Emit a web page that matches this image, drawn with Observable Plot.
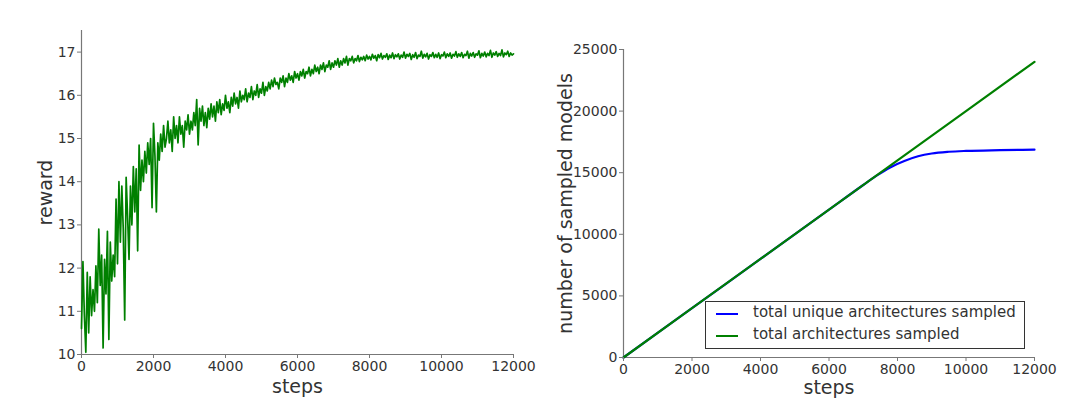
<!DOCTYPE html>
<html>
<head>
<meta charset="utf-8">
<script src="https://cdn.jsdelivr.net/npm/d3@7"></script>
<script src="https://cdn.jsdelivr.net/npm/@observablehq/plot@0.6"></script>
<style>
  html, body { margin: 0; padding: 0; background: #fff; }
  #wrap { position: relative; width: 1080px; height: 418px; display: flex; font-family: "DejaVu Sans", sans-serif; }
  #wrap > div.panel { width: 540px; height: 418px; }
  #legend { position: absolute; left: 705px; top: 301px; width: 320px; height: 48px; box-sizing: border-box;
            border: 1px solid #333; background: #fff; }
  .item { position: absolute; left: 0; height: 22px; width: 100%; }
  .item .sw { position: absolute; left: 10px; top: 10px; width: 22px; height: 0; border-top: 2.5px solid; }
  .item .lb { position: absolute; left: 47px; top: 0px; font-size: 15px; color: #333; white-space: nowrap; }
</style>
</head>
<body>
<div id="wrap">
  <div class="panel" id="left"></div>
  <div class="panel" id="right"></div>
  <div id="legend"></div>
</div>
<script>
// ---------- data ----------
const STEP_INTERVAL = 40;
const rewards = [
  10.6, 12.15, 10.9, 10.05, 11.9, 10.5, 11.8, 10.9, 11.5, 11.0,
  12.05, 11.2, 12.9, 11.6, 12.3, 10.15, 12.2, 11.4, 12.85, 10.35,
  12.6, 11.7, 12.3, 11.8, 13.6, 12.1, 14.0, 12.6, 13.9, 12.9,
  10.8, 14.1, 13.2, 12.2, 13.9, 13.0, 14.35, 13.3, 14.3, 12.4,
  14.85, 13.8, 14.5, 14.0, 14.7, 14.2, 14.9, 14.4, 15.0, 13.4,
  15.35, 14.6, 13.3, 14.9, 14.5, 15.1, 14.7, 15.3, 14.8, 15.0,
  15.4, 14.9, 15.2, 14.7, 15.5, 15.0, 15.3, 14.9, 15.5, 15.1,
  15.3, 14.8, 15.4, 15.2, 15.55, 15.1, 15.4, 15.2, 15.6, 15.3,
  15.9, 14.85, 15.7, 15.4, 15.75, 15.3, 15.6, 15.25, 15.7, 15.45,
  15.8, 15.5, 15.75, 15.4, 15.85, 15.6, 15.9, 15.55, 15.8, 15.65,
  16.0, 15.7, 15.85, 15.6, 15.95, 15.75, 16.05, 15.8, 15.95, 15.7,
  16.1, 15.85, 16.0, 15.9, 16.15, 15.85, 16.05, 15.95, 16.2, 15.9,
  16.1, 16.0, 16.25, 15.95, 16.15, 16.05, 16.3, 16.0, 16.2, 16.1,
  16.3, 16.15, 16.35, 16.2, 16.4, 16.25, 16.3, 16.15, 16.4, 16.3,
  16.45, 16.2, 16.4, 16.3, 16.5, 16.35, 16.45, 16.3, 16.55, 16.4,
  16.5, 16.35, 16.55, 16.45, 16.6, 16.4, 16.55, 16.5, 16.65, 16.45,
  16.6, 16.5, 16.7, 16.55, 16.65, 16.5, 16.7, 16.6, 16.75, 16.55,
  16.7, 16.65, 16.8, 16.6, 16.75, 16.65, 16.8, 16.7, 16.85, 16.65,
  16.8, 16.7, 16.85, 16.75, 16.9, 16.7, 16.85, 16.8, 16.9, 16.75,
  16.85, 16.8, 16.92, 16.78, 16.88, 16.82, 16.9, 16.8, 16.93, 16.84,
  16.9, 16.82, 16.95, 16.86, 16.92, 16.8, 16.94, 16.87, 16.97, 16.84,
  16.92, 16.88, 16.96, 16.83, 16.93, 16.87, 16.98, 16.85, 16.94, 16.89,
  16.96, 16.84, 16.93, 16.88, 17.0, 16.86, 16.95, 16.9, 16.97, 16.83,
  16.94, 16.88, 16.99, 16.85, 16.93, 16.9, 17.02, 16.86, 16.95, 16.89,
  16.97, 16.84, 16.94, 16.9, 16.99, 16.87, 16.95, 16.88, 16.98, 16.85,
  16.94, 16.91, 17.0, 16.87, 16.96, 16.9, 16.98, 16.86, 16.95, 16.91,
  17.01, 16.88, 16.96, 16.9, 16.99, 16.87, 16.95, 16.92, 17.02, 16.86,
  16.97, 16.91, 16.99, 16.88, 16.96, 16.93, 17.03, 16.87, 16.97, 16.91,
  17.0, 16.89, 16.97, 16.92, 17.04, 16.88, 16.98, 16.93, 17.01, 16.9,
  16.97, 16.92, 17.05, 16.89, 16.98, 16.94, 17.02, 16.9, 16.98, 16.93,
  16.96
];

const uniqueSteps  = [0, 2000, 4000, 6000, 7000, 7400, 7800, 8200, 8600, 9000, 9500, 10000, 11000, 12000];
const uniqueCounts = [0, 4000, 8000, 12000, 14000, 14780, 15450, 15950, 16330, 16560, 16700, 16770, 16830, 16870];
const totalSteps   = [0, 2000, 4000, 6000, 8000, 10000, 12000];
const totalCounts  = [0, 4000, 8000, 12000, 16000, 20000, 24000];

const seriesNames  = ["total unique architectures sampled", "total architectures sampled"];
const seriesColors = ["#0000ff", "#008000"];

const xTicks = [0, 2000, 4000, 6000, 8000, 10000, 12000];
const rewardTicks = [10, 11, 12, 13, 14, 15, 16, 17];
const countTicks = [0, 5000, 10000, 15000, 20000, 25000];

// ---------- tables ----------
const rewardData = rewards.map((r, i) => ({step: i * STEP_INTERVAL, reward: r}));
const uniqueData = uniqueSteps.map((s, i) => ({step: s, n: uniqueCounts[i]}));
const totalData  = totalSteps.map((s, i) => ({step: s, n: totalCounts[i]}));

const fmt = d => String(d);
const spine = "#777";
const textCol = "#333";
const baseStyle = {fontFamily: "DejaVu Sans, sans-serif", fontSize: "14px", color: textCol, background: "white", overflow: "visible"};

const left = Plot.plot({
  width: 540, height: 418,
  marginLeft: 81, marginRight: 27, marginTop: 30, marginBottom: 64,
  x: {domain: [0, 12000]},
  y: {domain: [10, 17.5]},
  style: baseStyle,
  marks: [
    Plot.ruleY([10], {stroke: spine, strokeWidth: 1.2}),
    Plot.ruleX([0], {stroke: spine, strokeWidth: 1.2}),
    Plot.line(rewardData, {x: "step", y: "reward", stroke: seriesColors[1], strokeWidth: 1.7}),
    Plot.axisX({ticks: xTicks, tickFormat: fmt, tickSize: 4, tickPadding: 3, label: null, fontSize: 14, stroke: spine, fill: textCol}),
    Plot.axisY({ticks: rewardTicks, tickFormat: fmt, tickSize: 4, tickPadding: 2, label: null, fontSize: 14, stroke: spine, fill: textCol}),
    Plot.text(["steps"], {frameAnchor: "bottom", text: d => d, dy: 32, fontSize: 19, fill: textCol, textAnchor: "middle", lineAnchor: "middle"}),
    Plot.text(["reward"], {frameAnchor: "left", text: d => d, dx: -36, rotate: -90, fontSize: 19, fill: textCol, textAnchor: "middle", lineAnchor: "middle"})
  ]
});
document.getElementById("left").appendChild(left);

const right = Plot.plot({
  width: 540, height: 418,
  marginLeft: 83, marginRight: 46, marginTop: 49, marginBottom: 61,
  x: {domain: [0, 12000]},
  y: {domain: [0, 25000]},
  style: baseStyle,
  marks: [
    Plot.ruleY([0], {stroke: spine, strokeWidth: 1.2}),
    Plot.ruleX([0], {stroke: spine, strokeWidth: 1.2}),
    Plot.line(uniqueData, {x: "step", y: "n", stroke: seriesColors[0], strokeWidth: 2.2, curve: "monotone-x"}),
    Plot.line(totalData, {x: "step", y: "n", stroke: seriesColors[1], strokeWidth: 2.2}),
    Plot.axisX({ticks: xTicks, tickFormat: fmt, tickSize: 4, tickPadding: 3, label: null, fontSize: 14, stroke: spine, fill: textCol}),
    Plot.axisY({ticks: countTicks, tickFormat: fmt, tickSize: 4, tickPadding: 2, label: null, fontSize: 14, stroke: spine, fill: textCol}),
    Plot.text(["steps"], {frameAnchor: "bottom", text: d => d, dy: 30, fontSize: 19, fill: textCol, textAnchor: "middle", lineAnchor: "middle"}),
    Plot.text(["number of sampled models"], {frameAnchor: "left", text: d => d, dx: -58, rotate: -90, fontSize: 19, fill: textCol, textAnchor: "middle", lineAnchor: "middle"})
  ]
});
document.getElementById("right").appendChild(right);

// legend
const legend = document.getElementById("legend");
seriesNames.forEach((name, i) => {
  const it = document.createElement("div");
  it.className = "item";
  it.style.top = (1 + i * 22) + "px";
  const sw = document.createElement("div");
  sw.className = "sw";
  sw.style.borderTopColor = seriesColors[i];
  const lb = document.createElement("div");
  lb.className = "lb";
  lb.textContent = name;
  it.appendChild(sw); it.appendChild(lb);
  legend.appendChild(it);
});
</script>
</body>
</html>
